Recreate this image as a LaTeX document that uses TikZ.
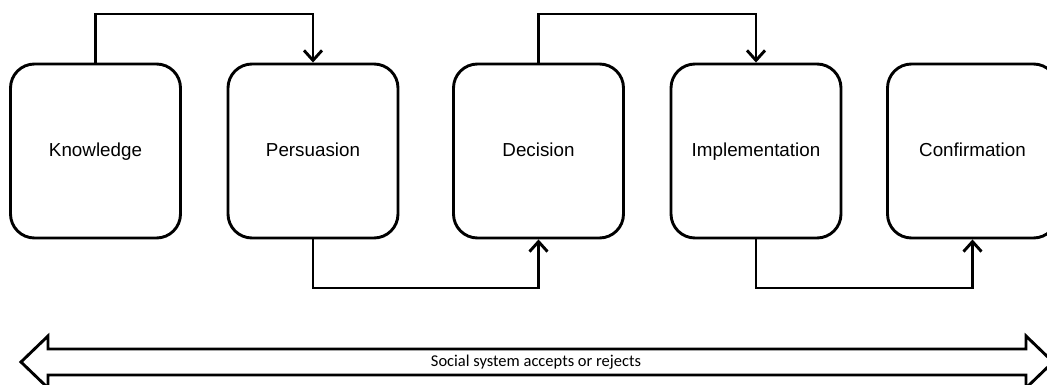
\documentclass[tikz,border=0pt]{standalone}
\usepackage{fontspec}
\setmainfont{Liberation Sans}
\newfontfamily\bandfont{Carlito}
\usetikzlibrary{arrows.meta}

\tikzset{
  stage/.style={draw, line width=2.9pt, rounded corners=24pt, minimum width=170pt, minimum height=174pt, inner sep=0pt, text height=15pt, text depth=3pt, font=\fontsize{18.8}{22}\selectfont},
  flow/.style={line width=2.9pt, -{Straight Barb[length=10pt, width=18pt, line width=2.9pt]}},
}

\begin{document}
\begin{tikzpicture}[x=1pt, y=-1pt]
	\useasboundingbox (0,0) rectangle (1047,385);
	\node[stage] (knowledge) at (95.5,151) {Knowledge};
	\node[stage] (persuasion) at (313,151) {Persuasion};
	\node[stage] (decision) at (538.5,151) {Decision};
	\node[stage] (implementation) at (756,151) {Implementation};
	\node[stage] (confirmation) at (972.5,151) {Confirmation};
	\coordinate (above) at (0,14);
	\coordinate (below) at (0,288);
	\draw[flow] (knowledge.north) -- (knowledge.north |- above) -| (persuasion.north);
	\draw[flow] (decision.north) -- (decision.north |- above) -| (implementation.north);
	\draw[flow] (persuasion.south) -- (persuasion.south |- below) -| (decision.south);
	\draw[flow] (implementation.south) -- (implementation.south |- below) -| (confirmation.south);
	% social system band
	\draw[line width=2.9pt, line join=miter] (21,362) -- (48,336) -- (48,349) -- (1026,349) -- (1026,336) -- (1053,362) -- (1026,388) -- (1026,375) -- (48,375) -- (48,388) -- cycle;
	\node[font=\bandfont\fontsize{16.5}{19}\selectfont] (band) at (536,362) {Social system accepts or rejects};
\end{tikzpicture}
\end{document}
